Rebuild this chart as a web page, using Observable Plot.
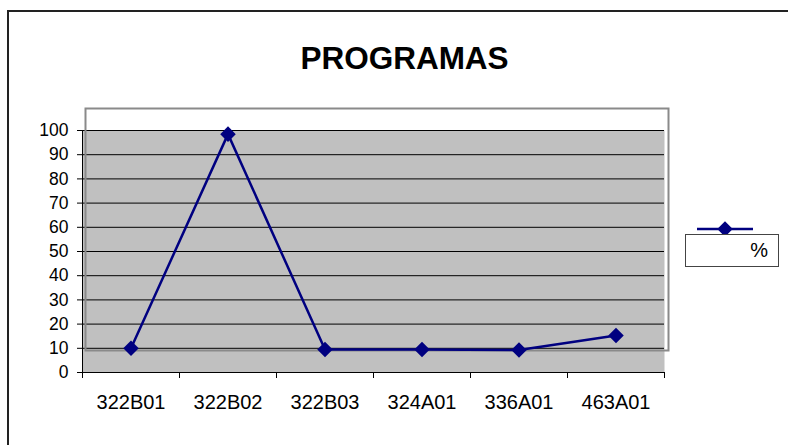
<!DOCTYPE html>
<html>
<head>
<meta charset="utf-8">
<script src="https://cdn.jsdelivr.net/npm/d3@7"></script>
<script src="https://cdn.jsdelivr.net/npm/@observablehq/plot@0.6"></script>
<style>
  html, body { margin: 0; padding: 0; background: white; }
  #wrap { position: relative; width: 788px; height: 445px; overflow: hidden; font-family: Arial, "Liberation Sans", sans-serif; }
  #outer { position: absolute; left: 7px; top: 10px; width: 900px; height: 600px; border-left: 2px solid #222; border-top: 2px solid #222; box-sizing: border-box; }
  #chart { position: absolute; left: 0; top: 0; }
  #legendBox { position: absolute; left: 685px; top: 234px; width: 94px; height: 33px; box-sizing: border-box; border: 1px solid #444; background: white; font-size: 20px; text-align: right; padding-right: 10px; line-height: 31px; color: black; }
  #legendKey { position: absolute; left: 697px; top: 221px; }
</style>
</head>
<body>
<div id="wrap">
  <div id="outer"></div>
  <div id="chart"></div>
  <svg id="legendKey" width="56" height="16"></svg>
  <div id="legendBox"></div>
</div>
<script>
const title = "PROGRAMAS";
const categories = ["322B01", "322B02", "322B03", "324A01", "336A01", "463A01"];
const values = [10, 98.5, 9.5, 9.5, 9.3, 15.3];
const seriesName = "%";
const yTicks = [0, 10, 20, 30, 40, 50, 60, 70, 80, 90, 100];

const idx = categories.map((c, i) => i);
const boundaries = categories.map((c, i) => i - 0.5).concat([categories.length - 0.5]);
const navy = "#000080";

const chart = Plot.plot({
  width: 788,
  height: 445,
  marginLeft: 82,
  marginRight: 124,
  marginTop: 130,
  marginBottom: 73,
  style: { fontFamily: "Arial, 'Liberation Sans', sans-serif", background: "transparent", overflow: "visible", color: "black" },
  x: { type: "linear", domain: [-0.5, categories.length - 0.5], axis: null },
  y: { domain: [0, 100], axis: null },
  marks: [
    Plot.frame({ fill: "#c0c0c0", stroke: null }),
    Plot.ruleY(yTicks.slice(1), { stroke: "black", strokeWidth: 1 }),
    Plot.frame({ fill: "none", stroke: "#8a8a8a", strokeWidth: 2, insetTop: -22, insetBottom: 22, insetLeft: 3, insetRight: -4 }),
    Plot.ruleY([0], { stroke: "black", strokeWidth: 1 }),
    Plot.ruleX([-0.5], { stroke: "black", strokeWidth: 1 }),
    Plot.axisY(yTicks, { tickSize: 5, tickPadding: 9, fontSize: 17.5, stroke: "black", fill: "black" }),
    Plot.axisX(boundaries, { tickSize: 6, tickFormat: () => "", stroke: "black" }),
    Plot.axisX(idx, { tickSize: 0, tickPadding: 22, tickFormat: i => categories[i], fontSize: 20, fill: "black" }),
    Plot.line(values, { x: (d, i) => i, y: d => d, stroke: navy, strokeWidth: 2.5 }),
    Plot.dot(values, { x: (d, i) => i, y: d => d, symbol: "diamond2", r: 7, fill: navy, stroke: null }),
    Plot.text([title], { frameAnchor: "top-left", dx: 404 - 82, dy: -72, textAnchor: "middle", lineAnchor: "middle", fontSize: 31.5, fontWeight: "bold", fill: "black" })
  ]
});
document.getElementById("chart").appendChild(chart);

// legend
document.getElementById("legendBox").textContent = seriesName;
const key = d3.select("#legendKey");
key.append("line").attr("x1", 0).attr("x2", 56).attr("y1", 8).attr("y2", 8).attr("stroke", navy).attr("stroke-width", 2.5);
key.append("path").attr("transform", "translate(28,8)").attr("d", d3.symbol(d3.symbolDiamond2, Math.PI * 7 * 7)()).attr("fill", navy);
</script>
</body>
</html>
